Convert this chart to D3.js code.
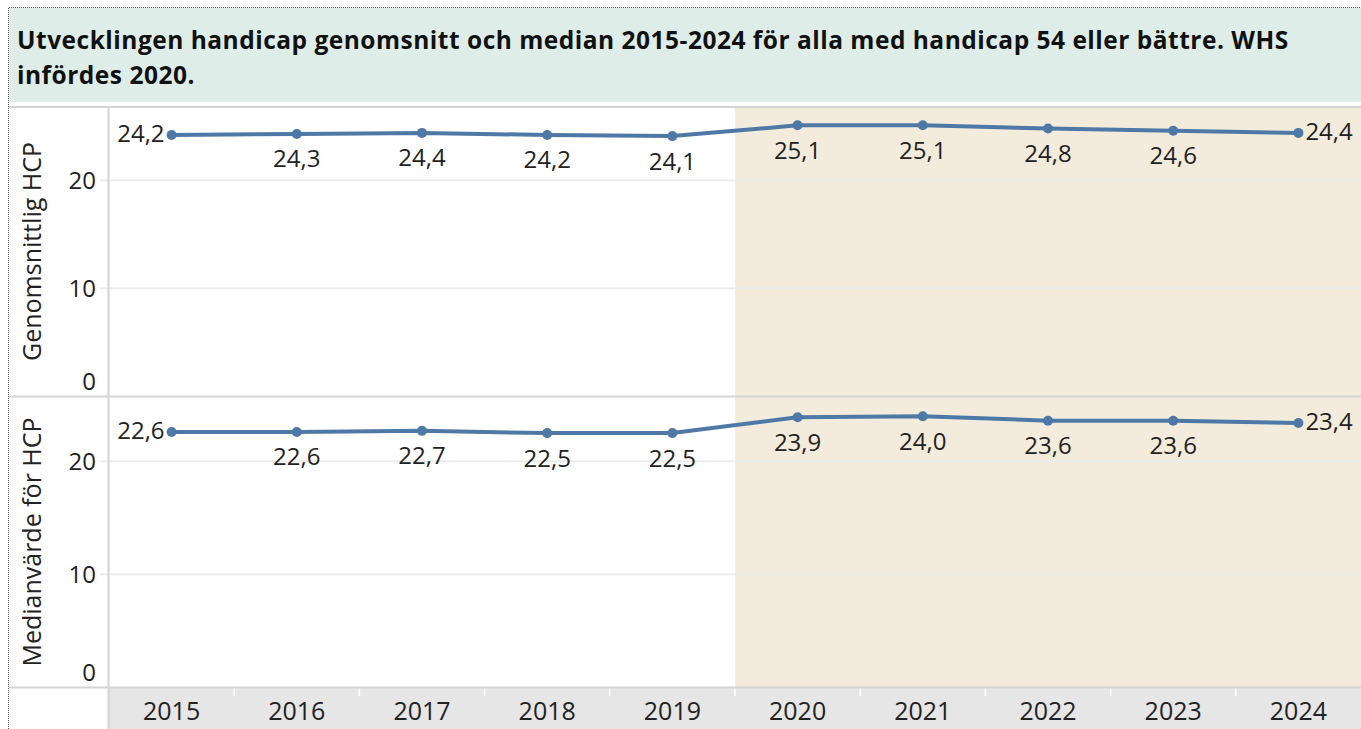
<!DOCTYPE html>
<html>
<head>
<meta charset="utf-8">
<script src="https://cdn.jsdelivr.net/npm/d3@7"></script>
<style>
  body { margin: 0; background: #fff; }
  svg { display: block; }
  text { font-family: "Open Sans", sans-serif; fill: #222; }
</style>
</head>
<body>
<div id="chart"></div>
<script>
// data
var years = ["2015", "2016", "2017", "2018", "2019", "2020", "2021", "2022", "2023", "2024"];
var avgHcp = [24.2, 24.3, 24.4, 24.2, 24.1, 25.1, 25.1, 24.8, 24.6, 24.4];
var medianHcp = [22.6, 22.6, 22.7, 22.5, 22.5, 23.9, 24.0, 23.6, 23.6, 23.4];
var yTicks = [0, 10, 20];
var whsYears = ["2020", "2021", "2022", "2023", "2024"];
var titleLines = [
  "Utvecklingen handicap genomsnitt och median 2015-2024 för alla med handicap 54 eller bättre. WHS",
  "infördes 2020."
];

var width = 1361, height = 729;
var plotLeft = 109, plotRight = 1361;

var svg = d3.select("#chart").append("svg")
  .attr("width", width)
  .attr("height", height);

// title band
svg.append("rect")
  .attr("x", 9).attr("y", 8)
  .attr("width", width - 9).attr("height", 94)
  .attr("fill", "#dfede8");

svg.selectAll("text.title")
  .data(titleLines)
  .enter().append("text")
  .attr("class", "title")
  .attr("x", 17)
  .attr("y", (d, i) => 49 + i * 35)
  .style("font-size", "24.5px")
  .style("letter-spacing", "0.5px")
  .style("font-weight", "bold")
  .style("fill", "#111")
  .text(d => d);

var x = d3.scaleBand().domain(years).range([plotLeft, plotRight]);

var panes = [
  { title: "Genomsnittlig HCP", values: avgHcp, top: 107, bottom: 396, max: 26.8 },
  { title: "Medianvärde för HCP", values: medianHcp, top: 397, bottom: 687, max: 25.7 }
];

var fmt = v => d3.format(".1f")(v).replace(".", ",");

panes.forEach(function (p, pi) {
  var y = d3.scaleLinear().domain([0, p.max]).range([p.bottom, p.top]);
  var g = svg.append("g");

  // WHS shading
  g.append("rect")
    .attr("x", x(whsYears[0]))
    .attr("y", p.top)
    .attr("width", plotRight - x(whsYears[0]))
    .attr("height", p.bottom - p.top)
    .attr("fill", "#f3ecdc");

  // gridlines
  g.selectAll("line.grid")
    .data(yTicks.filter(t => t > 0))
    .enter().append("line")
    .attr("x1", 100).attr("x2", plotRight)
    .attr("y1", d => y(d)).attr("y2", d => y(d))
    .attr("stroke", "#ececec")
    .attr("stroke-width", 2);

  // y axis tick labels (0 is pushed up to stay inside the pane)
  g.selectAll("text.ytick")
    .data(yTicks)
    .enter().append("text")
    .attr("x", 96)
    .attr("y", d => Math.min(y(d), p.bottom - 14))
    .attr("dy", "0.35em")
    .attr("text-anchor", "end")
    .style("font-size", "24px")
    .text(d => d);

  // y axis title
  g.append("text")
    .attr("transform", "translate(41," + ((p.top + p.bottom) / 2) + ") rotate(-90)")
    .attr("text-anchor", "middle")
    .style("font-size", "25px")
    .text(p.title);

  var line = d3.line()
    .x((d, i) => x(years[i]) + x.bandwidth() / 2)
    .y(d => y(d));

  g.append("path")
    .datum(p.values)
    .attr("d", line)
    .attr("fill", "none")
    .attr("stroke", "#4e79a7")
    .attr("stroke-width", 4);

  g.selectAll("circle")
    .data(p.values)
    .enter().append("circle")
    .attr("cx", (d, i) => x(years[i]) + x.bandwidth() / 2)
    .attr("cy", d => y(d))
    .attr("r", 5)
    .attr("fill", "#4e79a7");

  // value labels: first to the left, last to the right, rest below
  var n = p.values.length;
  g.selectAll("text.val")
    .data(p.values)
    .enter().append("text")
    .attr("class", "val")
    .attr("x", function (d, i) {
      var cx = x(years[i]) + x.bandwidth() / 2;
      if (i === 0) return cx - 7;
      if (i === n - 1) return cx + 7;
      return cx;
    })
    .attr("y", function (d, i) {
      if (i === 0 || i === n - 1) return y(d) - 1;
      return y(d) + 25;
    })
    .attr("dy", "0.35em")
    .attr("text-anchor", (d, i) => i === 0 ? "end" : i === n - 1 ? "start" : "middle")
    .style("font-size", "24px")
    .text(d => fmt(d));
});

// x axis band
svg.append("rect")
  .attr("x", plotLeft).attr("y", 688)
  .attr("width", plotRight - plotLeft).attr("height", height - 688)
  .attr("fill", "#e6e6e6");

svg.selectAll("line.xtick")
  .data(years.slice(1))
  .enter().append("line")
  .attr("x1", d => x(d)).attr("x2", d => x(d))
  .attr("y1", 688).attr("y2", 696)
  .attr("stroke", "#fff")
  .attr("stroke-width", 1.5);

svg.selectAll("text.xlab")
  .data(years)
  .enter().append("text")
  .attr("x", d => x(d) + x.bandwidth() / 2)
  .attr("y", 711)
  .attr("dy", "0.35em")
  .attr("text-anchor", "middle")
  .style("font-size", "25px")
  .text(d => d);

// frame lines
var frame = [
  [9, 107, width, 107],
  [9, 396.5, width, 396.5],
  [9, 687.5, width, 687.5],
  [108.5, 107, 108.5, height]
];
svg.selectAll("line.frame")
  .data(frame)
  .enter().append("line")
  .attr("x1", d => d[0]).attr("y1", d => d[1])
  .attr("x2", d => d[2]).attr("y2", d => d[3])
  .attr("stroke", "#d4d4d4")
  .attr("stroke-width", 2);

// dotted outer border
svg.append("path")
  .attr("d", "M8.5," + height + " V7.5 H" + width)
  .attr("fill", "none")
  .attr("stroke", "#555")
  .attr("stroke-width", 1)
  .attr("stroke-dasharray", "1,1");
</script>
</body>
</html>
